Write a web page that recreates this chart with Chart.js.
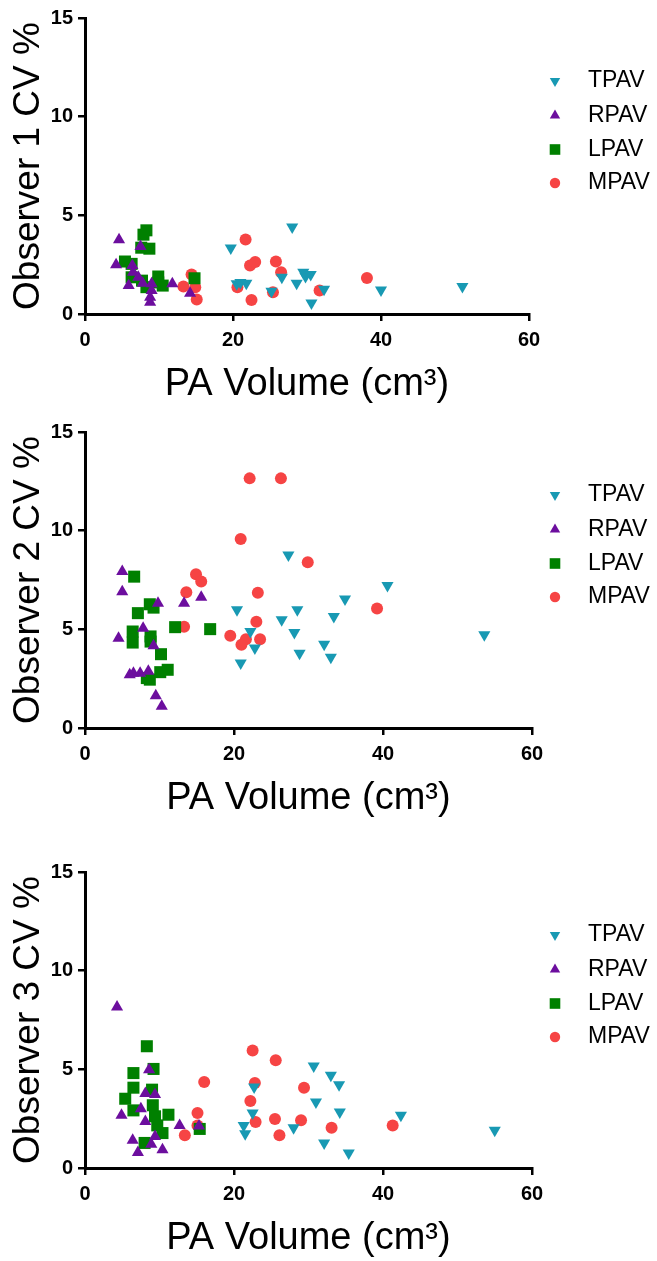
<!DOCTYPE html>
<html>
<head>
<meta charset="utf-8">
<script src="https://cdn.jsdelivr.net/npm/chart.js@4/dist/chart.umd.min.js"></script>
<style>
  body { margin: 0; background: #fff; }
  canvas { position: absolute; left: 0; }
</style>
</head>
<body>
<canvas id="obs1" width="657" height="407" style="top:0px"></canvas>
<canvas id="obs2" width="657" height="407" style="top:414px"></canvas>
<canvas id="obs3" width="657" height="407" style="top:854px"></canvas>
<script>
// series names and colours
var seriesNames = ["TPAV", "RPAV", "LPAV", "MPAV"];
var xTicks = [0, 20, 40, 60];
var yTicks = [0, 5, 10, 15];

// Observer 1 : [PA volume, CV %]
var tpav1 = [[19.7,3.34],[28.0,4.41],[20.5,1.53],[21.0,1.6],[21.8,1.56],[26.6,1.86],[25.2,1.15],[28.6,1.56],[29.5,2.12],[29.8,1.9],[30.5,2.0],[30.6,0.56],[32.3,1.25],[40.0,1.22],[51.0,1.39]];
var rpav1 = [[4.6,3.76],[7.5,3.42],[4.2,2.49],[6.4,2.46],[6.5,2.12],[7.2,1.86],[5.9,1.44],[7.8,1.56],[9.0,1.53],[9.0,1.19],[8.8,0.85],[8.8,0.59],[11.8,1.53],[14.2,1.05]];
var lpav1 = [[8.3,4.24],[7.9,4.02],[7.6,3.36],[8.7,3.31],[5.4,2.66],[6.3,2.54],[6.3,1.86],[7.7,1.69],[9.9,1.9],[9.9,1.6],[10.5,1.44],[8.3,1.36],[14.8,1.81]];
var mpav1 = [[21.7,3.78],[22.3,2.46],[23.0,2.63],[25.8,2.66],[26.5,2.12],[14.4,2.0],[13.3,1.39],[14.9,1.36],[15.1,0.73],[20.6,1.36],[22.5,0.71],[25.4,1.10],[31.7,1.19],[38.1,1.83]];

// Observer 2
var tpav2 = [[27.3,8.77],[40.6,7.22],[34.9,6.54],[20.4,5.99],[28.5,5.99],[33.4,5.65],[26.4,5.48],[22.2,4.89],[28.1,4.84],[53.6,4.72],[22.8,4.05],[32.1,4.25],[28.8,3.79],[33.0,3.59],[20.9,3.29]];
var rpav2 = [[5.0,7.93],[5.0,6.91],[9.8,6.32],[13.3,6.32],[15.6,6.63],[7.8,5.06],[4.5,4.55],[9.2,4.17],[6.5,2.78],[7.4,2.78],[8.5,2.87],[6.0,2.70],[9.5,1.64],[10.3,1.10]];
var lpav2 = [[6.6,7.67],[8.7,6.27],[9.2,6.1],[7.1,5.82],[12.1,5.11],[16.8,5.01],[6.4,4.89],[8.8,4.64],[6.4,4.33],[8.8,4.38],[10.2,3.74],[11.1,2.95],[10.1,2.83],[8.3,2.53],[8.7,2.45]];
var mpav2 = [[22.1,12.65],[26.3,12.65],[20.9,9.58],[29.9,8.40],[14.9,7.79],[15.6,7.42],[13.6,6.88],[23.2,6.85],[39.2,6.05],[23.0,5.38],[13.3,5.13],[19.5,4.67],[23.5,4.50],[21.6,4.50],[21.0,4.22]];

// Observer 3
var tpav3 = [[30.7,5.17],[33.0,4.70],[34.1,4.22],[22.7,4.10],[31.0,3.34],[34.2,2.84],[42.4,2.67],[22.5,2.79],[21.3,2.16],[28.0,2.04],[21.5,1.74],[55.0,1.91],[32.1,1.27],[35.4,0.76]];
var rpav3 = [[4.3,8.16],[8.6,4.98],[8.1,3.77],[9.4,3.73],[7.5,3.0],[4.9,2.67],[8.1,2.36],[12.7,2.16],[15.3,2.13],[9.4,1.60],[6.4,1.40],[8.9,1.20],[10.4,0.93],[7.1,0.78]];
var lpav3 = [[8.3,6.17],[9.2,5.02],[6.5,4.81],[6.5,4.07],[9.0,3.97],[5.4,3.51],[9.1,3.18],[6.5,2.92],[11.2,2.70],[9.4,2.62],[9.7,2.16],[10.4,1.77],[15.4,1.98],[8.0,1.27]];
var mpav3 = [[22.5,5.96],[25.6,5.46],[16.0,4.36],[22.8,4.31],[29.4,4.07],[22.2,3.40],[15.1,2.79],[25.5,2.48],[29.0,2.42],[22.9,2.33],[15.1,2.16],[41.3,2.15],[33.1,2.04],[13.4,1.66],[26.1,1.66]];

var colors = ["#1899B3", "#6C0E9E", "#008000", "#F64444"];
var styles = [
  { pointStyle: "triangle", rotation: 180, radius: 7, legendRadius: 6 },
  { pointStyle: "triangle", rotation: 0, radius: 7, legendRadius: 6 },
  { pointStyle: "rect", rotation: 0, radius: 8.5, legendRadius: 7.5 },
  { pointStyle: "circle", rotation: 0, radius: 6, legendRadius: 5.2 }
];

var FONT = "'Liberation Sans', Arial, sans-serif";

function toPoints(arr) {
  return arr.map(function (p) { return { x: p[0], y: p[1] }; });
}

// legend drawn on the right side of each panel
var sideLegend = {
  id: "sideLegend",
  afterDraw: function (chart) {
    var ctx = chart.ctx;
    var top = chart.chartArea.top;
    var offs = [63, 97.5, 131.5, 165];
    ctx.save();
    for (var i = 0; i < seriesNames.length; i++) {
      var y = top + offs[i];
      ctx.fillStyle = colors[i];
      Chart.helpers.drawPoint(ctx, {
        pointStyle: styles[i].pointStyle,
        rotation: styles[i].rotation,
        radius: styles[i].legendRadius,
        borderWidth: 0
      }, 555, y);
      ctx.fillStyle = "#000";
      ctx.font = "23px " + FONT;
      ctx.textBaseline = "middle";
      ctx.textAlign = "left";
      ctx.fillText(seriesNames[i], 588, y);
    }
    ctx.restore();
  }
};

function makePanel(id, title, series, rightEdge) {
  var ctx = document.getElementById(id).getContext("2d");
  var datasets = series.map(function (s, i) {
    return {
      label: seriesNames[i],
      data: toPoints(s),
      backgroundColor: colors[i],
      borderColor: colors[i],
      borderWidth: 0,
      pointStyle: styles[i].pointStyle,
      rotation: styles[i].rotation,
      pointRadius: styles[i].radius,
      pointHoverRadius: styles[i].radius
    };
  });
  return new Chart(ctx, {
    type: "scatter",
    data: { datasets: datasets },
    options: {
      responsive: false,
      animation: false,
      events: [],
      layout: { padding: { top: 18, left: 0, right: 657 - rightEdge, bottom: 0 } },
      plugins: { legend: { display: false }, tooltip: { enabled: false } },
      scales: {
        x: {
          type: "linear",
          min: 0,
          max: 60,
          afterBuildTicks: function (scale) {
            scale.ticks = xTicks.map(function (v) { return { value: v }; });
          },
          afterFit: function (scale) {
            scale.height = 93;
            scale.paddingLeft = 0;
            scale.paddingRight = 0;
          },
          border: { display: true, color: "#000", width: 3 },
          grid: { drawOnChartArea: false, drawTicks: true, tickLength: 7, color: "#000", lineWidth: 2.5 },
          ticks: { color: "#000", padding: 7, maxRotation: 0, font: { family: FONT, size: 20, weight: "bold" } },
          title: {
            display: true,
            text: "PA Volume (cm³)",
            color: "#000",
            padding: { top: 0, bottom: 0 },
            font: { family: FONT, size: 38 }
          }
        },
        y: {
          type: "linear",
          min: 0,
          max: 15,
          afterBuildTicks: function (scale) {
            scale.ticks = yTicks.map(function (v) { return { value: v }; });
          },
          afterFit: function (scale) {
            scale.width = 85;
            scale.paddingTop = 0;
            scale.paddingBottom = 0;
          },
          border: { display: true, color: "#000", width: 3 },
          grid: { drawOnChartArea: false, drawTicks: true, tickLength: 7, color: "#000", lineWidth: 2.5 },
          ticks: { color: "#000", padding: 5, font: { family: FONT, size: 20, weight: "bold" } },
          title: {
            display: true,
            text: title,
            color: "#000",
            padding: { top: 7, bottom: 0 },
            font: { family: FONT, size: 37 }
          }
        }
      }
    },
    plugins: [sideLegend]
  });
}

makePanel("obs1", "Observer 1 CV %", [tpav1, rpav1, lpav1, mpav1], 529);
makePanel("obs2", "Observer 2 CV %", [tpav2, rpav2, lpav2, mpav2], 532);
makePanel("obs3", "Observer 3 CV %", [tpav3, rpav3, lpav3, mpav3], 532);
</script>
</body>
</html>
